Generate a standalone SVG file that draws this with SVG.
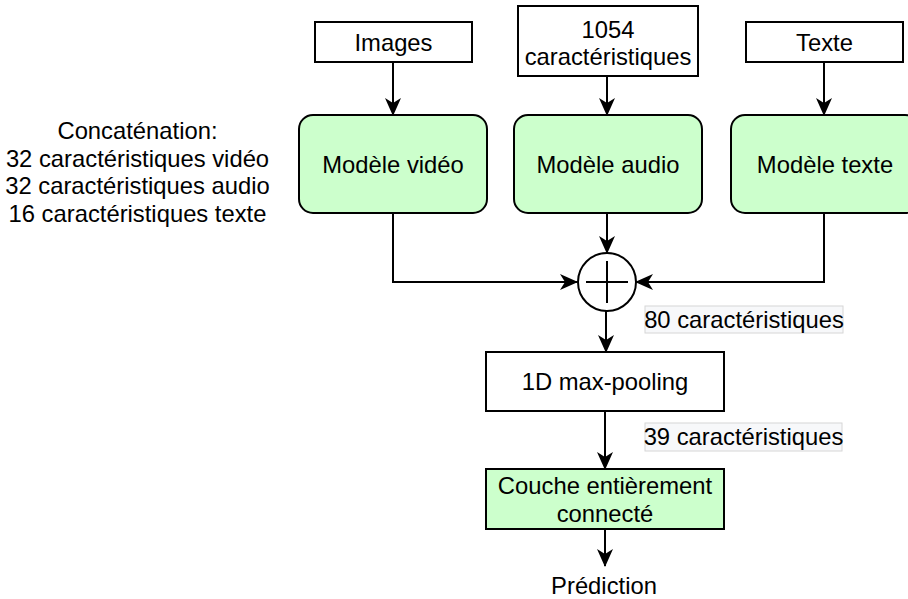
<svg xmlns="http://www.w3.org/2000/svg" width="908" height="599" viewBox="0 0 908 599">
<defs>
<style>
text{font-family:"Liberation Sans",Arial,sans-serif;font-size:23.8px;fill:#000;text-anchor:middle}
.box{fill:#fff;stroke:#000;stroke-width:2}
.model{fill:#ccffcc;stroke:#000;stroke-width:2}
.edge{fill:none;stroke:#000;stroke-width:2}
.lbl{fill:#f7f8fa;stroke:#d6d6d6;stroke-width:1}
</style>
<marker id="arr" viewBox="0 0 18 18" refX="17" refY="9" markerWidth="18" markerHeight="18" markerUnits="userSpaceOnUse" orient="auto">
<path d="M0,1 L18,9 L0,17 L5,9 Z" fill="#000"/>
</marker>
</defs>
<rect width="908" height="599" fill="#fff"/>

<g id="connectors">
<line class="edge" x1="393" y1="62" x2="393" y2="115" marker-end="url(#arr)"/>
<line class="edge" x1="607" y1="76" x2="607" y2="115" marker-end="url(#arr)"/>
<line class="edge" x1="824" y1="62" x2="824" y2="115" marker-end="url(#arr)"/>
<polyline class="edge" points="393,213 393,282 577,282" marker-end="url(#arr)"/>
<line class="edge" x1="607" y1="213" x2="607" y2="253" marker-end="url(#arr)"/>
<polyline class="edge" points="824,213 824,282 636,282" marker-end="url(#arr)"/>
<line class="edge" x1="606" y1="311" x2="606" y2="352" marker-end="url(#arr)"/>
<line class="edge" x1="605" y1="411" x2="605" y2="469" marker-end="url(#arr)"/>
<line class="edge" x1="605" y1="529" x2="605" y2="566" marker-end="url(#arr)"/>
<g id="label-80">
<rect class="lbl" x="645" y="306" width="198" height="27"/>
<text x="744" y="328">80 caractéristiques</text>
</g>
<g id="label-39">
<rect class="lbl" x="645" y="423" width="197" height="28"/>
<text x="743.5" y="445">39 caractéristiques</text>
</g>
</g>

<g id="node-images">
<rect class="box" x="315" y="22" width="157" height="40"/>
<text x="393.5" y="50.5">Images</text>
</g>
<g id="node-features">
<rect class="box" x="518" y="6" width="180" height="70"/>
<text x="608" y="37.5">1054</text>
<text x="608" y="65">caractéristiques</text>
</g>
<g id="node-texte">
<rect class="box" x="746" y="22" width="157" height="40"/>
<text x="824.5" y="50.5">Texte</text>
</g>

<g id="node-video">
<rect class="model" x="299" y="115" width="188" height="98" rx="14" ry="14"/>
<text x="393" y="172.5">Modèle vidéo</text>
</g>
<g id="node-audio">
<rect class="model" x="514" y="115" width="188" height="98" rx="14" ry="14"/>
<text x="608" y="172.5">Modèle audio</text>
</g>
<g id="node-texte-model">
<rect class="model" x="731" y="115" width="188" height="98" rx="14" ry="14"/>
<text x="825" y="172.5">Modèle texte</text>
</g>

<g id="node-concat">
<circle cx="607" cy="282" r="29" fill="#fff" stroke="#000" stroke-width="2"/>
<line x1="586" y1="282" x2="628" y2="282" stroke="#000" stroke-width="2"/>
<line x1="607" y1="261" x2="607" y2="303" stroke="#000" stroke-width="2"/>
</g>

<g id="node-concat-note">
<text x="137.5" y="139">Concaténation:</text>
<text x="137.5" y="166.5">32 caractéristiques vidéo</text>
<text x="137.5" y="194">32 caractéristiques audio</text>
<text x="137.5" y="221.5">16 caractéristiques texte</text>
</g>

<g id="node-pooling">
<rect class="box" x="486" y="352" width="238" height="59"/>
<text x="605" y="390">1D max-pooling</text>
</g>

<g id="node-fc">
<rect class="model" x="486" y="469" width="238" height="60"/>
<text x="605" y="493.5">Couche entièrement</text>
<text x="605" y="521.5">connecté</text>
</g>

<g id="node-prediction">
<text x="604" y="594">Prédiction</text>
</g>
</svg>
